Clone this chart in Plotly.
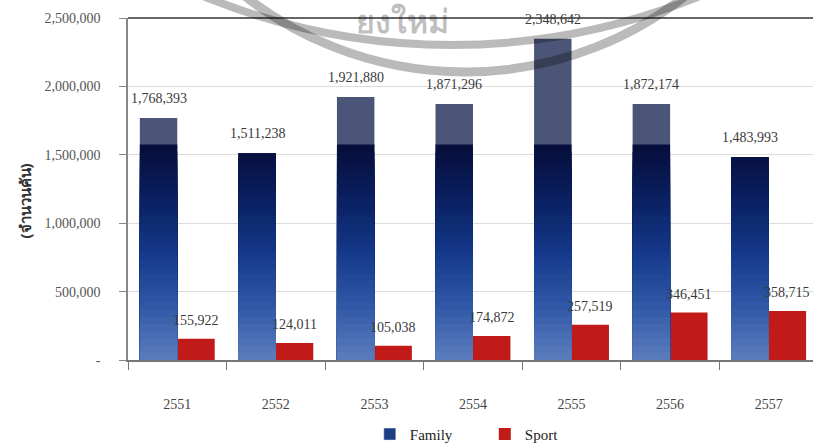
import plotly.graph_objects as go

# ---- data ----
years = ["2551", "2552", "2553", "2554", "2555", "2556", "2557"]
family = [1768393, 1511238, 1921880, 1871296, 2348642, 1872174, 1483993]
sport = [155922, 124011, 105038, 174872, 257519, 346451, 358715]
y_tick_vals = [0, 500000, 1000000, 1500000, 2000000, 2500000]
y_tick_text = ["-", "500,000", "1,000,000", "1,500,000", "2,000,000", "2,500,000"]
series_names = ["Family", "Sport"]
y_title = "(จำนวนคัน)"
watermark_text = "ยงใหม่"

# ---- style ----
SERIF = "Liberation Serif, Times New Roman, serif"
W_BAR = 0.38
GRAD_TOP = 1575000          # level where the scanned gradient changes
N_BANDS = 30
stops = [(0.0, (92, 126, 190)), (0.25, (48, 88, 166)), (0.5, (20, 56, 138)),
         (0.75, (10, 32, 96)), (1.0, (6, 13, 58))]


def grad_color(t):
    for (t0, c0), (t1, c1) in zip(stops[:-1], stops[1:]):
        if t <= t1:
            f = (t - t0) / (t1 - t0)
            return "rgb(%d,%d,%d)" % tuple(round(a + (b - a) * f) for a, b in zip(c0, c1))
    return "rgb(%d,%d,%d)" % stops[-1][1]


fig = go.Figure()

# Sport bars (drawn first)
fig.add_trace(go.Bar(
    x=years, y=sport, name=series_names[1], offset=0, width=W_BAR,
    marker=dict(color="#c01b19", line=dict(width=0)), legendrank=2,
    hoverinfo="y"))

# Family bars: full bar in the top tone, then gradient layers from 0 (top to bottom)
fig.add_trace(go.Bar(
    x=years, y=family, offset=-W_BAR, width=W_BAR,
    marker=dict(color="#4a5577", line=dict(width=0)),
    showlegend=False, hoverinfo="y"))
for k in range(N_BANDS - 1, -1, -1):
    hi = GRAD_TOP * (k + 1) / N_BANDS
    seg = [min(v, hi) for v in family]
    fig.add_trace(go.Bar(
        x=years, y=seg, offset=-W_BAR, width=W_BAR,
        marker=dict(color=grad_color((k + 0.5) / N_BANDS), line=dict(width=0)),
        showlegend=False, hoverinfo="skip"))
# legend entry for Family
fig.add_trace(go.Bar(
    x=[years[0]], y=[None], name=series_names[0], legendrank=1,
    marker=dict(color="#1d3d84"), showlegend=True))

annotations = []
for i, (f, s) in enumerate(zip(family, sport)):
    annotations.append(dict(x=i - W_BAR / 2, y=f, xref="x", yref="y", text=f"{f:,}",
                            showarrow=False, yanchor="bottom", yshift=10,
                            font=dict(family=SERIF, size=14, color="#3a3a3a")))
    annotations.append(dict(x=i + W_BAR / 2, y=s, xref="x", yref="y", text=f"{s:,}",
                            showarrow=False, yanchor="bottom", yshift=9,
                            font=dict(family=SERIF, size=14, color="#3a3a3a")))
annotations.append(dict(x=-0.151, y=0.465, xref="paper", yref="paper", text=f"<b>{y_title}</b>",
                        showarrow=False, textangle=-90, xanchor="center", yanchor="middle",
                        font=dict(family="Noto Sans, DejaVu Sans, sans-serif", size=15, color="#333")))
# scanned watermark lettering
annotations.append(dict(x=0.40, y=0.994, xref="paper", yref="paper", text=f"<b>{watermark_text}</b>",
                        showarrow=False, xanchor="center", yanchor="middle",
                        font=dict(family="Noto Sans, DejaVu Sans, sans-serif", size=32,
                                  color="rgba(0,0,0,0.25)")))

fig.update_layout(
    width=813, height=445,
    margin=dict(l=128, r=0, t=18, b=85, autoexpand=False),
    paper_bgcolor="white", plot_bgcolor="white",
    barmode="overlay",
    showlegend=True,
    legend=dict(orientation="h", x=0.353, y=-0.169, xanchor="left", yanchor="top",
                font=dict(family=SERIF, size=15, color="#222"),
                entrywidth=70, entrywidthmode="pixels", bgcolor="rgba(0,0,0,0)"),
    annotations=annotations,
    xaxis=dict(type="category", range=[-0.5, 6.45], tickson="boundaries",
               ticks="outside", ticklen=8, tickcolor="#777",
               showline=True, linecolor="#777", linewidth=1.5,
               showgrid=False, ticklabelstandoff=30,
               tickfont=dict(family=SERIF, size=14, color="#444")),
    yaxis=dict(range=[0, 2500000], tickvals=y_tick_vals, ticktext=y_tick_text,
               ticks="outside", ticklen=7, tickcolor="#888",
               showline=True, linecolor="#888", linewidth=1.5,
               showgrid=True, gridcolor="#dcdcdc", gridwidth=1,
               zeroline=False, ticklabelstandoff=16,
               tickfont=dict(family=SERIF, size=14, color="#555")),
    shapes=[
        dict(type="line", xref="paper", yref="paper", x0=0, x1=1, y0=1, y1=1,
             line=dict(color="#333", width=1.5)),
        # scanned watermark arcs
        dict(type="circle", xref="paper", yref="paper", x0=-0.0292, x1=1.0131, y0=0.8421, y1=2.9298,
             line=dict(color="rgba(0,0,0,0.27)", width=9), layer="above"),
        dict(type="circle", xref="paper", yref="paper", x0=-0.4832, x1=1.4277, y0=0.9211, y1=4.7485,
             line=dict(color="rgba(0,0,0,0.27)", width=8), layer="above"),
    ],
)

fig.write_html("out.html")
